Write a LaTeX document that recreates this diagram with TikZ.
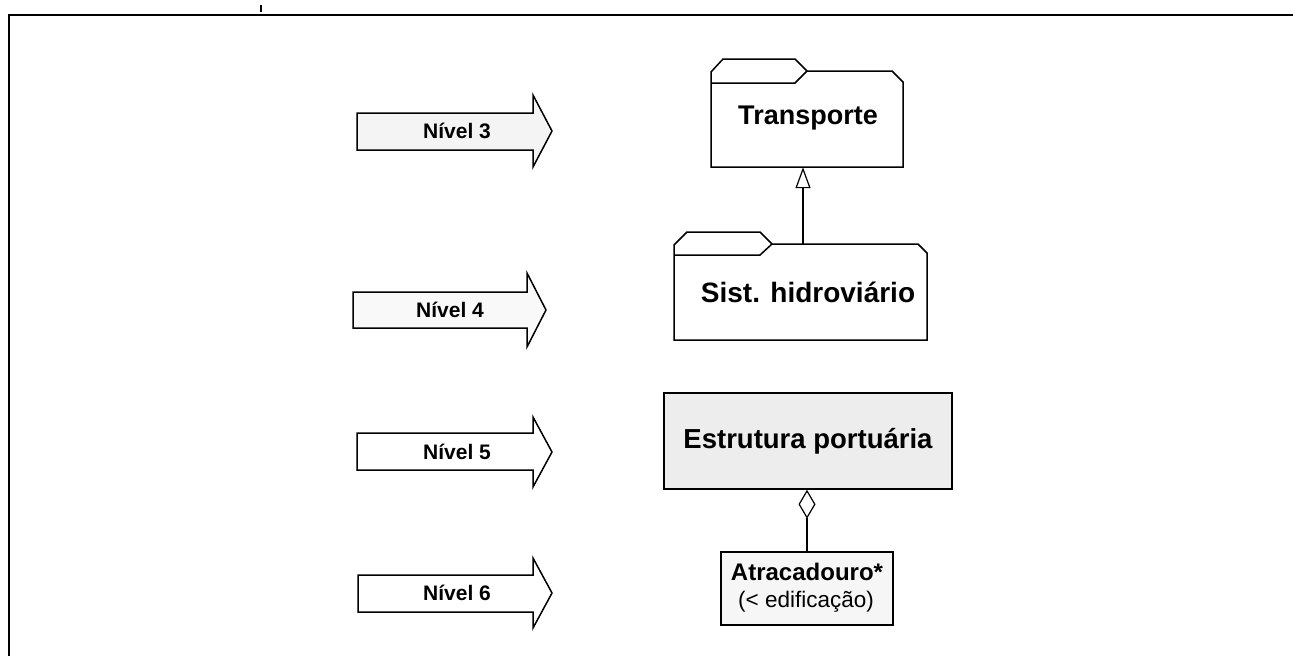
\documentclass[tikz,border=0pt]{standalone}
\usepackage{fontspec}
\setmainfont{Liberation Sans}
\usetikzlibrary{arrows.meta}
\begin{document}
\begin{tikzpicture}[x=1pt,y=-1pt,
  outline/.style={draw=black,line width=1.5pt,line join=miter},
  levelarrow/.style={outline},
  leveltext/.style={font=\fontsize{21}{24}\selectfont\bfseries,inner sep=0pt},
  pkgtext/.style={font=\fontsize{27}{32}\selectfont\bfseries,inner sep=0pt},
  pkgbody/.style={inner sep=0pt},
  classbox/.style={outline,inner sep=0pt,align=center},
  link/.style={draw=black,line width=1.2pt}]
\useasboundingbox (0,0) rectangle (1293,656);

% page frame (top and left edges only)
\draw[line width=2.6pt] (9,656) -- (9,15) -- (1293,15);
\draw[line width=2pt] (261,5) -- (261,12);

% level arrows
\draw[levelarrow,fill=gray!9] (357,113) -- (533,113) -- (533,95) -- (552,131) -- (533,167) -- (533,150) -- (357,150) -- cycle;
\node[leveltext] (n3) at (457,131) {Nível 3};
\draw[levelarrow,fill=gray!5] (353,292) -- (527,292) -- (527,273) -- (546,310) -- (527,347) -- (527,328) -- (353,328) -- cycle;
\node[leveltext] (n4) at (450,310) {Nível 4};
\draw[levelarrow,fill=white] (357,433) -- (533,433) -- (533,417) -- (552,452) -- (533,487) -- (533,470) -- (357,470) -- cycle;
\node[leveltext] (n5) at (457,452) {Nível 5};
\draw[levelarrow,fill=white] (358,575) -- (533,575) -- (533,558) -- (552,593) -- (533,628) -- (533,612) -- (358,612) -- cycle;
\node[leveltext] (n6) at (457,593) {Nível 6};

% package "Transporte"
\node[pkgbody,minimum width=192pt,minimum height=96pt] (transporte) at (807,119) {};
\draw[outline,fill=white] (711,72) -- (723,59) -- (795,59) -- (807,71) -- (892,71) -- (903,82) -- (903,167) -- (711,167) -- cycle;
\draw[outline] (711,83) -- (795,83) -- (807,71);
\node[pkgtext] (transporteT) at (808,118) {Transporte};

% package "Sist. hidroviário"
\node[pkgbody,minimum width=253pt,minimum height=96pt] (sist) at (800.5,292) {};
\draw[outline,fill=white] (674,245) -- (687,232) -- (760,232) -- (772,244) -- (918,244) -- (927,253) -- (927,340) -- (674,340) -- cycle;
\draw[outline] (674,255) -- (760,255) -- (772,244);
\node[pkgtext,font=\fontsize{28}{32}\selectfont\bfseries] (sistT) at (808,292) {Sist. hidroviário};

% classes
\node[classbox,fill=gray!14,minimum width=288pt,minimum height=96pt,
      font=\fontsize{27.5}{32}\selectfont\bfseries] (estrutura) at (808,441) {Estrutura portuária};
\node[classbox,fill=gray!7,minimum width=172pt,minimum height=73pt] (atrac) at (807,588.5) {};
\node[inner sep=0pt,font=\fontsize{24}{28}\selectfont\bfseries] (atracT) at (807,572) {Atracadouro*};
\node[inner sep=0pt,font=\fontsize{22.5}{26}\selectfont] (atracS) at (806,602) {(< edificação)};

% generalization and aggregation
\coordinate (genx) at (803,0);
\draw[link,-{Triangle[open,length=21pt,width=15pt,fill=white]}] (genx |- sist.north) -- (genx |- transporte.south);
\draw[link,-{Diamond[open,length=29pt,width=17pt,fill=white]}] (atrac.north) -- (atrac.north |- estrutura.south);
\end{tikzpicture}
\end{document}
